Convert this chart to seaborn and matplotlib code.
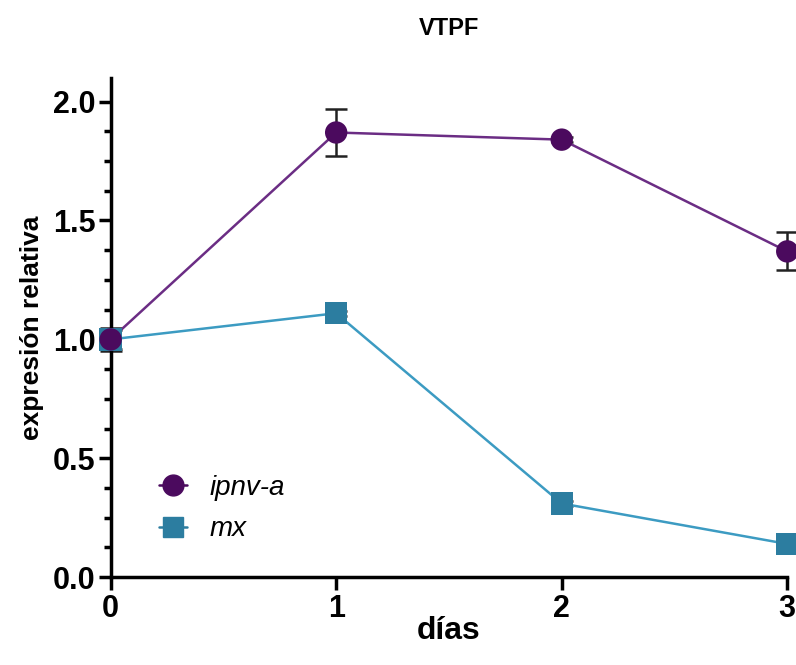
import matplotlib
matplotlib.use("Agg")
import matplotlib.pyplot as plt
import seaborn as sns
import pandas as pd
import numpy as np
from matplotlib.ticker import MultipleLocator
from matplotlib.lines import Line2D

days = [0, 1, 2, 3]
ipnv_a = [1.00, 1.87, 1.84, 1.37]
ipnv_a_err = [0.04, 0.10, 0.01, 0.08]
mx = [1.00, 1.11, 0.31, 0.14]
mx_err = [0.05, 0.01, 0.01, 0.01]
series_names = ["ipnv-a", "mx"]

sns.set_theme(style="ticks")
plt.rcParams['font.family'] = ['Liberation Sans', 'DejaVu Sans']
plt.rcParams['text.color'] = 'black'
plt.rcParams['axes.labelcolor'] = 'black'
plt.rcParams['xtick.color'] = 'black'
plt.rcParams['ytick.color'] = 'black'

df = pd.DataFrame({
    "días": days * 2,
    "valor": ipnv_a + mx,
    "err": ipnv_a_err + mx_err,
    "gen": [series_names[0]] * 4 + [series_names[1]] * 4,
})

fig = plt.figure(figsize=(7.96, 6.65), dpi=100)
ax = fig.add_axes([0.139, 0.132, 0.85, 0.751])

palette = {"ipnv-a": "#4B0A5E", "mx": "#2C7DA0"}
line_colors = {"ipnv-a": "#6B2D84", "mx": "#3C9BC2"}
markers = {"ipnv-a": "o", "mx": "s"}

for name in series_names:
    sub = df[df["gen"] == name]
    ax.errorbar(sub["días"], sub["valor"], yerr=sub["err"], fmt="none",
                ecolor="#222222", elinewidth=1.8, capsize=8, capthick=1.8,
                zorder=2, clip_on=False)

sns.lineplot(data=df, x="días", y="valor", hue="gen", palette=line_colors,
             ax=ax, legend=False, linewidth=1.8, zorder=3)
for line in ax.lines:
    line.set_clip_on(False)

# draw mx first, then ipnv-a on top
for z, name in [(4, "mx"), (5, "ipnv-a")]:
    sub = df[df["gen"] == name]
    sns.scatterplot(data=sub, x="días", y="valor", color=palette[name],
                    marker=markers[name], s=260, edgecolor="none",
                    ax=ax, legend=False, zorder=z, clip_on=False)

handles = [Line2D([0], [0], color=palette[n], marker=markers[n], markersize=15,
                  linestyle="-", linewidth=1.8) for n in series_names]
leg = ax.legend(handles, series_names, loc="lower left",
                bbox_to_anchor=(0.035, 0.02), frameon=False, handlelength=1.0,
                handletextpad=0.8, labelspacing=0.55,
                prop={"style": "italic", "size": 20})

ax.set_xlim(0, 3)
ax.set_ylim(0, 2.1)
ax.set_xticks(days)
ax.set_yticks([0.0, 0.5, 1.0, 1.5, 2.0])
ax.set_yticklabels(["0.0", "0.5", "1.0", "1.5", "2.0"])
ax.yaxis.set_minor_locator(MultipleLocator(0.125))

for s in ["top", "right"]:
    ax.spines[s].set_visible(False)
for s in ["left", "bottom"]:
    ax.spines[s].set_linewidth(2.5)
    ax.spines[s].set_color("black")

ax.tick_params(axis="both", which="major", width=2.5, length=9, labelsize=22,
               color="black", labelcolor="black")
ax.tick_params(axis="x", pad=3)
ax.tick_params(axis="y", pad=2)
ax.tick_params(axis="y", which="minor", width=2.5, length=5, color="black")
for lbl in ax.get_xticklabels() + ax.get_yticklabels():
    lbl.set_fontweight("bold")

ax.set_xlabel("días", fontsize=23, fontweight="bold", labelpad=-6)
ax.set_ylabel("expresión relativa", fontsize=19, fontweight="bold", labelpad=6)
ax.set_title("VTPF", fontsize=17, fontweight="bold", pad=31)

fig.savefig("out.png", dpi=100)
